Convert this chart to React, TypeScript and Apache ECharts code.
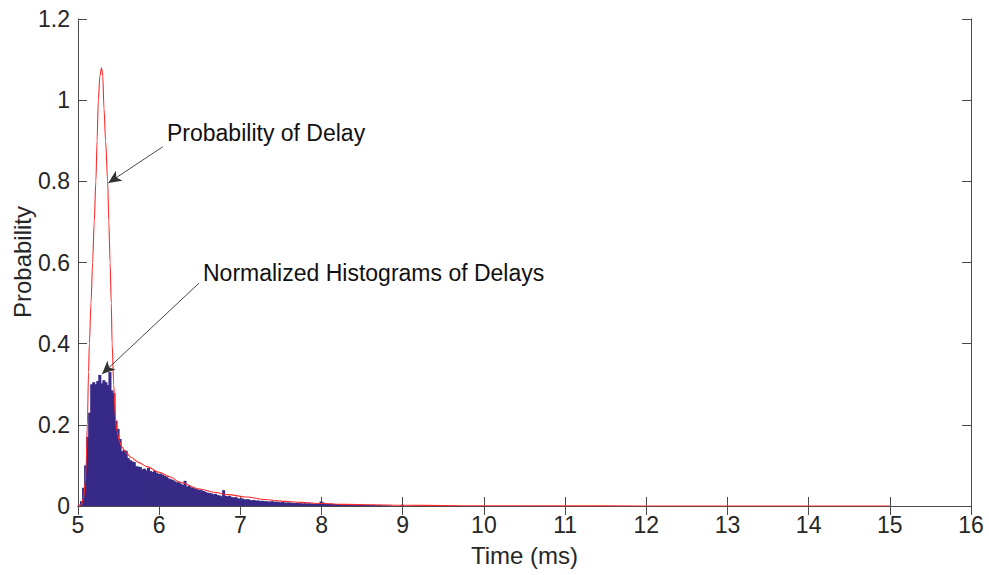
import React, { useEffect, useRef } from "react";
import * as echarts from "echarts";

// Axis limits and tick spacing
const xMin = 5;
const xMax = 16;
const xStep = 1;
const yMin = 0;
const yMax = 1.2;
const yStep = 0.2;

// Probability density of the delay (time in ms, probability)
const pdfTime = [
  5.0, 5.04, 5.07, 5.09, 5.1, 5.115, 5.13, 5.14, 5.16, 5.18, 5.2, 5.22, 5.235,
  5.25, 5.27, 5.29, 5.305, 5.32, 5.34, 5.365, 5.38, 5.395, 5.41, 5.42, 5.44,
  5.46, 5.48, 5.51, 5.54, 5.6, 5.65, 5.75, 5.85, 6.0, 6.13, 6.26, 6.5, 6.67,
  6.85, 7.08, 7.3, 7.5, 7.75, 8.0, 8.3, 8.6, 9.0, 9.5, 10, 11, 12, 13, 14, 15,
];
const pdfProb = [
  0, 0.003, 0.02, 0.06, 0.1, 0.2, 0.33, 0.4, 0.5, 0.6, 0.7, 0.8, 0.9, 1.0,
  1.06, 1.08, 1.06, 0.98, 0.9, 0.8, 0.7, 0.6, 0.5, 0.4, 0.3, 0.22, 0.185,
  0.16, 0.145, 0.13, 0.12, 0.107, 0.097, 0.083, 0.072, 0.058, 0.042, 0.034,
  0.028, 0.022, 0.016, 0.012, 0.009, 0.006, 0.004, 0.003, 0.002, 0.001,
  0.0006, 0.0003, 0.0001, 0.0001, 0, 0,
];

// Normalized histogram of measured delays
const binStart = 5.0;
const binWidth = 0.025;
const histHeights = [
  0.003, 0.012, 0.045, 0.1, 0.17, 0.23, 0.3, 0.305, 0.3, 0.308, 0.323, 0.302,
  0.31, 0.305, 0.298, 0.33, 0.285, 0.278, 0.21, 0.19, 0.165, 0.135, 0.138,
  0.136, 0.118, 0.113, 0.11, 0.108, 0.098, 0.097, 0.096, 0.09, 0.092, 0.088,
  0.094, 0.086, 0.084, 0.087, 0.082, 0.079, 0.08, 0.077, 0.074, 0.072, 0.068,
  0.066, 0.064, 0.061, 0.058, 0.06, 0.055, 0.052, 0.062, 0.048, 0.05, 0.046,
  0.045, 0.043, 0.041, 0.04, 0.039, 0.037, 0.035, 0.033, 0.032, 0.031, 0.029,
  0.03, 0.027, 0.026, 0.024, 0.039, 0.025, 0.024, 0.025, 0.022, 0.021, 0.022,
  0.019, 0.018, 0.019, 0.017, 0.016, 0.017, 0.015, 0.014, 0.015, 0.013, 0.014,
  0.012, 0.013, 0.012, 0.012, 0.011, 0.011, 0.012, 0.01, 0.011, 0.01, 0.009,
  0.01, 0.009, 0.008, 0.009, 0.008, 0.008, 0.007, 0.008, 0.007, 0.007, 0.006,
  0.007, 0.006, 0.007, 0.006, 0.006, 0.005, 0.006, 0.005, 0.011, 0.009, 0.006,
  0.006, 0.005, 0.006, 0.005, 0.005, 0.005, 0.004, 0.005, 0.004, 0.004, 0.005,
  0.004, 0.004, 0.004, 0.004, 0.003, 0.004, 0.003, 0.003, 0.003, 0.003, 0.003,
  0.002, 0.003, 0.002, 0.002, 0.002, 0.002, 0.001, 0.002, 0.001, 0.001, 0.0005,
  0, 0, 0, 0, 0.003,
];

// Annotation arrows: [fromTime, fromProb, toTime, toProb]
const pdfArrow = [6.043, 0.885, 5.373, 0.796];
const histArrow = [6.49, 0.549, 5.296, 0.325];

const FONT = "'Liberation Sans', Arial, Helvetica, sans-serif";
const AXIS_COLOR = "#4a4a4a";
const TEXT_COLOR = "#262626";
const BAR_COLOR = "#372a87";
const LINE_COLOR = "#ff2b2b";

export default function App() {
  const ref = useRef<HTMLDivElement>(null);

  useEffect(() => {
    if (!ref.current) return;
    const chart = echarts.init(ref.current, undefined, { renderer: "svg" });

    const histData = histHeights.map((h, i) => [
      binStart + i * binWidth,
      binStart + (i + 1) * binWidth,
      h,
    ]);
    const pdfData = pdfTime.map((t, i) => [t, pdfProb[i]]);

    const axisLine = { show: true, lineStyle: { color: AXIS_COLOR, width: 1 } };
    const tick = {
      show: true,
      inside: true,
      length: 9,
      lineStyle: { color: AXIS_COLOR, width: 1 },
    };

    chart.setOption({
      animation: false,
      backgroundColor: "#ffffff",
      grid: {
        left: 78,
        right: 18,
        top: 19,
        bottom: 69,
        containLabel: false,
        outerBoundsMode: "none",
      },
      xAxis: [
        {
          type: "value",
          min: xMin,
          max: xMax,
          interval: xStep,
          position: "bottom",
          axisLine,
          axisTick: tick,
          splitLine: { show: false },
          axisLabel: {
            color: TEXT_COLOR,
            fontSize: 23,
            fontFamily: FONT,
            margin: 7,
          },
          name: "Time (ms)",
          nameLocation: "middle",
          nameGap: 37,
          nameTextStyle: { color: TEXT_COLOR, fontSize: 24, fontFamily: FONT },
        },
        {
          type: "value",
          min: xMin,
          max: xMax,
          interval: xStep,
          position: "top",
          axisLine,
          axisTick: tick,
          splitLine: { show: false },
          axisLabel: { show: false },
        },
      ],
      yAxis: [
        {
          type: "value",
          min: yMin,
          max: yMax,
          interval: yStep,
          position: "left",
          axisLine,
          axisTick: tick,
          splitLine: { show: false },
          axisLabel: {
            color: TEXT_COLOR,
            fontSize: 23,
            fontFamily: FONT,
            margin: 8,
            formatter: (v: number) => String(Math.round(v * 10) / 10),
          },
        },
        {
          type: "value",
          min: yMin,
          max: yMax,
          interval: yStep,
          position: "right",
          axisLine,
          axisTick: tick,
          splitLine: { show: false },
          axisLabel: { show: false },
        },
      ],
      graphic: [
        {
          type: "text",
          x: 22,
          y: 262,
          rotation: Math.PI / 2,
          style: {
            text: "Probability",
            font: `24px ${FONT}`,
            fill: TEXT_COLOR,
            align: "center",
            verticalAlign: "middle",
          },
        },
        {
          type: "text",
          left: 167,
          top: 121,
          style: {
            text: "Probability of Delay",
            font: `23px ${FONT}`,
            fill: "#111111",
          },
        },
        {
          type: "text",
          left: 203,
          top: 261,
          style: {
            text: "Normalized Histograms of Delays",
            font: `23px ${FONT}`,
            fill: "#111111",
          },
        },
      ],
      series: [
        {
          type: "custom",
          name: "Histogram",
          xAxisIndex: 0,
          yAxisIndex: 0,
          encode: { x: [0, 1], y: 2 },
          data: histData,
          renderItem: (_params: any, api: any) => {
            const top = api.coord([api.value(0), api.value(2)]);
            const bottom = api.coord([api.value(1), 0]);
            return {
              type: "rect",
              shape: {
                x: top[0],
                y: top[1],
                width: bottom[0] - top[0] + 1,
                height: bottom[1] - top[1],
              },
              style: { fill: BAR_COLOR },
            };
          },
          silent: true,
        },
        {
          type: "line",
          name: "Probability of Delay",
          xAxisIndex: 0,
          yAxisIndex: 0,
          data: pdfData,
          showSymbol: false,
          smooth: 0.3,
          smoothMonotone: "x",
          lineStyle: { color: LINE_COLOR, width: 1.1 },
          silent: true,
          z: 3,
          markLine: {
            silent: true,
            symbol: ["none", "arrow"],
            symbolSize: [9, 13],
            label: { show: false },
            lineStyle: { color: "#333333", width: 0.9, type: "solid" },
            data: [
              [
                { coord: [pdfArrow[0], pdfArrow[1]] },
                { coord: [pdfArrow[2], pdfArrow[3]] },
              ],
              [
                { coord: [histArrow[0], histArrow[1]] },
                { coord: [histArrow[2], histArrow[3]] },
              ],
            ],
          },
        },
      ],
    });

    return () => chart.dispose();
  }, []);

  return (
    <div
      ref={ref}
      style={{
        position: "fixed",
        left: 0,
        top: 0,
        width: "989px",
        height: "575px",
        background: "#ffffff",
      }}
    />
  );
}
